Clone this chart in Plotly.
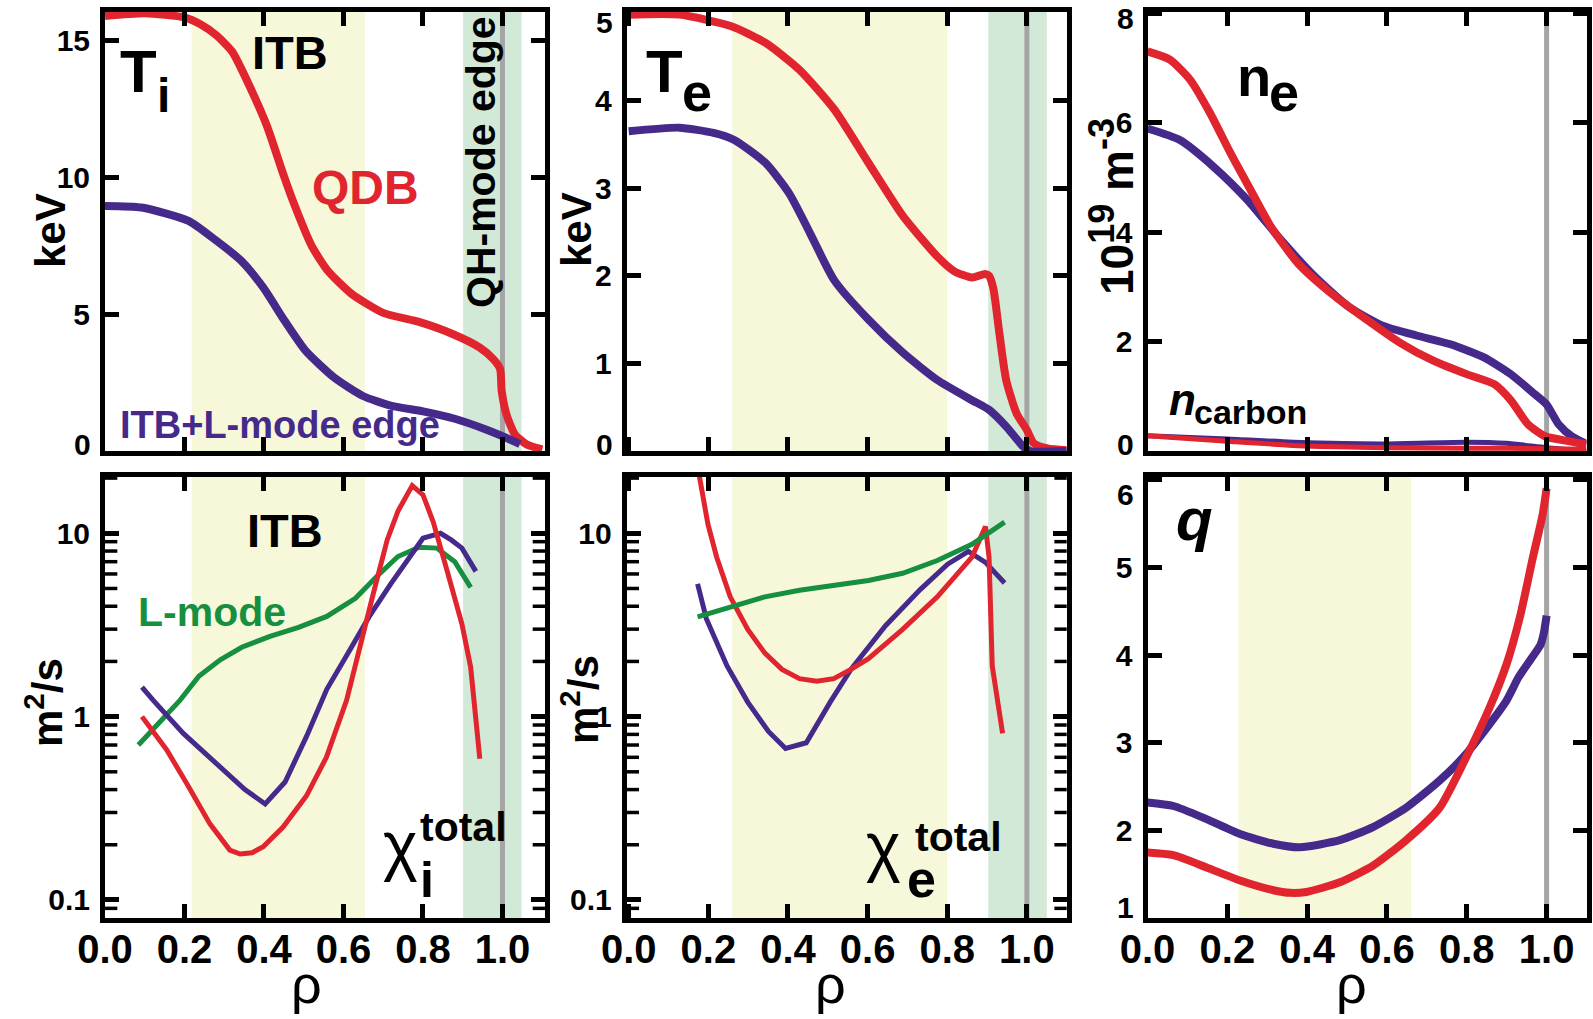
import math
import plotly.graph_objects as go

W, H = 1593, 1019
FONT = "Liberation Sans, Arial, sans-serif"
SANS = "Liberation Sans, Arial, sans-serif"

RED = "#E1252E"
BLUE = "#452A8C"
GREEN = "#168F3E"
YELLOW = "#F7F7DA"
MINT = "#D3E9D7"
GREY = "#A5A5A5"

# ---------------- profile data (rho = normalised radius) ----------------
# Ion temperature, keV
TI_RHO_QDB = [0, 0.1, 0.2, 0.24, 0.28, 0.32, 0.365, 0.407, 0.449, 0.474, 0.52, 0.56, 0.62,
              0.7, 0.79, 0.876, 0.943, 0.977, 0.994, 0.998, 1.01, 1.031, 1.06, 1.10]
TI_QDB = [15.9, 16.0, 15.85, 15.6, 15.2, 14.6, 13.3, 11.9, 10.1, 9.1, 7.5, 6.6, 5.75,
          5.05, 4.72, 4.27, 3.78, 3.36, 3.0, 2.2, 1.34, 0.61, 0.25, 0.06]
TI_RHO_L = [0, 0.092, 0.21, 0.27, 0.343, 0.398, 0.452, 0.505, 0.577, 0.649, 0.721,
            0.8, 0.88, 0.96, 1.01, 1.044]
TI_L = [8.96, 8.9, 8.41, 7.8, 6.95, 5.98, 4.76, 3.66, 2.68, 2.01, 1.65,
        1.45, 1.18, 0.78, 0.48, 0.25]

# Electron temperature, keV
TE_RHO_QDB = [0, 0.127, 0.256, 0.343, 0.429, 0.516, 0.602, 0.689, 0.775, 0.818, 0.862,
              0.895, 0.905, 0.916, 0.931, 0.948, 0.974, 1.0, 1.017, 1.052, 1.1]
TE_QDB = [4.98, 4.98, 4.85, 4.66, 4.35, 3.9, 3.29, 2.68, 2.22, 2.05, 1.98,
          2.02, 2.0, 1.85, 1.34, 0.81, 0.43, 0.24, 0.09, 0.03, 0.01]
TE_RHO_L = [0, 0.127, 0.213, 0.265, 0.343, 0.403, 0.455, 0.516, 0.602, 0.689, 0.775,
            0.862, 0.905, 0.948, 0.991, 1.009, 1.1]
TE_L = [3.65, 3.69, 3.63, 3.55, 3.29, 2.94, 2.49, 1.95, 1.5, 1.12, 0.81,
        0.58, 0.47, 0.28, 0.05, 0.0, 0.0]

# Electron and carbon density, 10^19 m^-3
NE_RHO_QDB = [0, 0.056, 0.107, 0.157, 0.208, 0.259, 0.31, 0.378, 0.462, 0.547, 0.632,
              0.716, 0.801, 0.869, 0.911, 0.953, 0.996, 1.055, 1.1]
NE_QDB = [7.30, 7.15, 6.78, 6.17, 5.44, 4.76, 4.09, 3.42, 2.87, 2.41, 1.98,
          1.65, 1.40, 1.22, 0.92, 0.49, 0.27, 0.18, 0.12]
NE_RHO_L = [0, 0.081, 0.166, 0.251, 0.335, 0.42, 0.505, 0.589, 0.674, 0.759, 0.843,
            0.911, 0.97, 1.0, 1.03, 1.063, 1.1]
NE_L = [5.89, 5.68, 5.19, 4.58, 3.85, 3.18, 2.63, 2.29, 2.11, 1.95, 1.71,
        1.40, 1.04, 0.85, 0.49, 0.27, 0.13]
NC_RHO = [0, 0.2, 0.4, 0.6, 0.8, 0.9, 1.0, 1.1]
NC_QDB = [0.28, 0.18, 0.09, 0.06, 0.05, 0.05, 0.04, 0.03]
NC_L = [0.28, 0.22, 0.15, 0.13, 0.16, 0.14, 0.06, 0.0]

# Ion thermal diffusivity, m^2/s
CHII_RHO_QDB = [0.093, 0.155, 0.206, 0.264, 0.314, 0.34, 0.37, 0.398, 0.448, 0.507, 0.557,
                0.608, 0.674, 0.71, 0.737, 0.773, 0.8, 0.826, 0.862, 0.898, 0.92, 0.943]
CHII_QDB = [1.0, 0.66, 0.43, 0.26, 0.187, 0.178, 0.181, 0.195, 0.25, 0.37, 0.6,
            1.23, 4.6, 9.2, 13.2, 18.2, 16.2, 11.5, 6.1, 3.2, 1.86, 0.59]
CHII_RHO_ITB = [0.093, 0.121, 0.197, 0.256, 0.298, 0.352, 0.403, 0.453, 0.507, 0.558,
                0.612, 0.665, 0.719, 0.764, 0.8, 0.844, 0.871, 0.898, 0.933]
CHII_ITB = [1.45, 1.23, 0.81, 0.62, 0.51, 0.40, 0.334, 0.44, 0.78, 1.41,
            2.23, 3.52, 5.3, 7.3, 9.4, 10.0, 9.2, 8.3, 6.2]
CHII_RHO_LM = [0.084, 0.155, 0.189, 0.236, 0.29, 0.344, 0.415, 0.487, 0.558, 0.63,
               0.683, 0.737, 0.79, 0.835, 0.88, 0.92]
CHII_LM = [0.70, 1.04, 1.23, 1.66, 2.04, 2.39, 2.74, 3.07, 3.52, 4.42,
           5.8, 7.47, 8.4, 8.3, 7.0, 5.07]

# Electron thermal diffusivity, m^2/s
CHIE_RHO_QDB = [0.175, 0.199, 0.221, 0.255, 0.299, 0.342, 0.385, 0.429, 0.472, 0.515,
                0.558, 0.602, 0.688, 0.775, 0.862, 0.896, 0.905, 0.913, 0.939]
CHIE_QDB = [22, 11.2, 7.4, 4.5, 2.99, 2.22, 1.81, 1.61, 1.56, 1.61,
            1.81, 2.07, 2.99, 4.5, 7.4, 10.9, 7.4, 1.89, 0.81]
CHIE_RHO_ITB = [0.173, 0.195, 0.247, 0.299, 0.351, 0.394, 0.446, 0.506, 0.558, 0.645,
                0.732, 0.801, 0.853, 0.896, 0.944]
CHIE_ITB = [5.3, 3.42, 1.89, 1.2, 0.83, 0.67, 0.72, 1.2, 1.81, 3.13,
            4.93, 6.78, 7.96, 6.94, 5.36]
CHIE_RHO_LM = [0.173, 0.255, 0.342, 0.429, 0.515, 0.602, 0.688, 0.775, 0.862, 0.944]
CHIE_LM = [3.5, 3.93, 4.5, 4.89, 5.17, 5.53, 6.05, 7.1, 8.7, 11.5]

# Safety factor
Q_RHO_QDB = [0, 0.065, 0.148, 0.232, 0.315, 0.357, 0.398, 0.482, 0.565, 0.648, 0.732,
             0.798, 0.857, 0.9, 0.934, 0.965, 0.99, 1.0]
Q_QDB = [1.75, 1.72, 1.58, 1.43, 1.32, 1.29, 1.30, 1.41, 1.60, 1.89, 2.26,
         2.83, 3.4, 3.9, 4.45, 5.1, 5.6, 5.9]
Q_RHO_ITB = [0, 0.065, 0.148, 0.232, 0.315, 0.382, 0.482, 0.565, 0.648, 0.732, 0.798,
             0.898, 0.93, 0.96, 0.985, 0.993, 1.0]
Q_ITB = [2.32, 2.28, 2.13, 1.96, 1.85, 1.81, 1.89, 2.04, 2.26, 2.57, 2.87,
         3.47, 3.75, 3.95, 4.12, 4.25, 4.45]

# Shaded radial regions (barrier and edge zones) per column
ITB_ZONE = {1: (0.218, 0.654), 2: (0.26, 0.80), 3: (0.228, 0.661)}
EDGE_ZONE = {1: (0.901, 1.048), 2: (0.903, 1.05)}
SEPARATRIX = 1.0

RHO_TICKS = [0, 0.2, 0.4, 0.6, 0.8, 1.0]
RHO_TICKTEXT = ["0.0", "0.2", "0.4", "0.6", "0.8", "1.0"]

# y tick values; the end labels are set in from the frame corners
TI_TICKS = [0, 5, 10, 15]
TE_TICKS = [0, 1, 2, 3, 4, 5]
NE_TICKS = [0, 2, 4, 6, 8]
Q_TICKS = [1, 2, 3, 4, 5, 6]
LOG_RANGE = [-1.1, 1.307]
LOG_MINOR = [0.09, 0.2, 0.3, 0.4, 0.5, 0.6, 0.7, 0.8, 0.9,
             2, 3, 4, 5, 6, 7, 8, 9, 20]

# ---------------- figure ----------------
fig = go.Figure()

COLS = [(105 / W, 545 / W), (626.7 / W, 1066.7 / W), (1147.5 / W, 1586.5 / W)]
ROWS = [(1 - 451 / H, 1 - 12 / H), (1 - 918.3 / H, 1 - 477 / H)]
XRANGES = [[0, 1.107], [-0.005, 1.1], [0, 1.1]]
FRAME_LEFT = [105, 626.7, 1147.5]


def ax(n):
    return "" if n == 1 else str(n)


def line(panel, xs, ys, color, width, shape="spline", smoothing=0.6):
    fig.add_trace(go.Scatter(
        x=xs, y=ys, mode="lines",
        line=dict(color=color, width=width, shape=shape,
                  smoothing=smoothing if shape == "spline" else None),
        xaxis="x" + ax(panel), yaxis="y" + ax(panel),
        showlegend=False, hoverinfo="skip"))


# temperature and density profiles
line(1, TI_RHO_QDB, TI_QDB, RED, 8)
line(1, TI_RHO_L, TI_L, BLUE, 8)
line(2, TE_RHO_QDB, TE_QDB, RED, 8)
line(2, TE_RHO_L, TE_L, BLUE, 8)
line(3, NC_RHO, NC_L, BLUE, 5)
line(3, NC_RHO, NC_QDB, RED, 5)
line(3, NE_RHO_L, NE_L, BLUE, 8)
line(3, NE_RHO_QDB, NE_QDB, RED, 8)
# diffusivities
line(4, CHII_RHO_LM, CHII_LM, GREEN, 5, shape="linear")
line(4, CHII_RHO_ITB, CHII_ITB, BLUE, 5, shape="linear")
line(4, CHII_RHO_QDB, CHII_QDB, RED, 5, shape="linear")
line(5, CHIE_RHO_ITB, CHIE_ITB, BLUE, 5, shape="linear")
line(5, CHIE_RHO_QDB, CHIE_QDB, RED, 5, shape="linear")
line(5, CHIE_RHO_LM, CHIE_LM, GREEN, 5, shape="linear")
# safety factor
line(6, Q_RHO_ITB, Q_ITB, BLUE, 8)
line(6, Q_RHO_QDB, Q_QDB, RED, 8)

# shaded zones and separatrix marker
for panel in range(1, 7):
    col = (panel - 1) % 3 + 1
    xr = "x" + ax(panel)
    yr = "y" + ax(panel) + " domain"
    if col in ITB_ZONE and panel != 3:
        a, b = ITB_ZONE[col]
        fig.add_shape(type="rect", xref=xr, yref=yr, x0=a, x1=b, y0=0, y1=1,
                      fillcolor=YELLOW, line_width=0, layer="below")
    if col in EDGE_ZONE:
        a, b = EDGE_ZONE[col]
        fig.add_shape(type="rect", xref=xr, yref=yr, x0=a, x1=b, y0=0, y1=1,
                      fillcolor=MINT, line_width=0, layer="below")
    fig.add_shape(type="line", xref=xr, yref=yr, x0=SEPARATRIX, x1=SEPARATRIX, y0=0, y1=1,
                  line=dict(color=GREY, width=5), layer="below")

# minor ticks along both sides of the logarithmic diffusivity axes,
# placed at each value's fractional position within the log range
for panel in (4, 5):
    for v in LOG_MINOR:
        f = (math.log10(v) - LOG_RANGE[0]) / (LOG_RANGE[1] - LOG_RANGE[0])
        for a, b in ((0, 0.028), (0.972, 1)):
            fig.add_shape(type="line", xref="x" + ax(panel) + " domain",
                          yref="y" + ax(panel) + " domain",
                          x0=a, x1=b, y0=f, y1=f, line=dict(color="black", width=3.5),
                          layer="above")

axis_common = dict(showline=True, linewidth=5, linecolor="black", mirror="ticks",
                   ticks="inside", ticklen=14, tickwidth=4.5, tickcolor="black",
                   showgrid=False, zeroline=False, fixedrange=True, automargin=False)

# decades on the diffusivity axes
LOG_AXIS = dict(type="log", range=LOG_RANGE, tickmode="linear", tick0=0, dtick=1,
                exponentformat="none")


def inner_labels(vals):
    # blank the two end labels; they are drawn separately, nudged inside
    return [""] + [f"{v:g}" for v in vals[1:-1]] + [""]


YSPEC = {
    1: dict(range=[0, 16.05], tickvals=TI_TICKS, ticktext=[""] + [f"{v:g}" for v in TI_TICKS[1:]]),
    2: dict(range=[0, 5.01], tickvals=TE_TICKS, ticktext=inner_labels(TE_TICKS)),
    3: dict(range=[0, 8.02], tickvals=NE_TICKS, ticktext=inner_labels(NE_TICKS)),
    4: LOG_AXIS,
    5: LOG_AXIS,
    6: dict(range=[1, 6.03], tickvals=Q_TICKS, ticktext=inner_labels(Q_TICKS)),
}

layout_axes = {}
for panel in range(1, 7):
    col = (panel - 1) % 3
    row = 0 if panel <= 3 else 1
    bottom = row == 1
    layout_axes["xaxis" + ax(panel)] = dict(
        axis_common, domain=COLS[col], range=XRANGES[col], anchor="y" + ax(panel),
        tickvals=RHO_TICKS, ticktext=RHO_TICKTEXT, showticklabels=bottom,
        tickfont=dict(family=FONT, size=40, color="black", weight="bold"),
        ticklabelstandoff=-8)
    layout_axes["yaxis" + ax(panel)] = dict(
        axis_common, domain=ROWS[row], anchor="x" + ax(panel),
        tickfont=dict(family=FONT, size=30, color="black", weight="bold"),
        ticklabelstandoff=4, **YSPEC[panel])

fig.update_layout(width=W, height=H, margin=dict(l=0, r=0, t=0, b=0, autoexpand=False),
                  paper_bgcolor="white", plot_bgcolor="white", showlegend=False,
                  **layout_axes)


def txt(px, py, s, size, color="black", weight="bold", style="normal", angle=0,
        xanchor="center", family=FONT):
    fig.add_annotation(x=px / W, y=1 - py / H, xref="paper", yref="paper", text=s,
                       showarrow=False, textangle=angle, xanchor=xanchor, yanchor="middle",
                       font=dict(family=family, size=size, color=color, weight=weight, style=style))


# end tick labels, set slightly inside the frame corners
for col, py, val in [(0, 444, TI_TICKS[0]),
                     (1, 444, TE_TICKS[0]), (1, 23, TE_TICKS[-1]),
                     (2, 444, NE_TICKS[0]), (2, 19, NE_TICKS[-1]),
                     (2, 907, Q_TICKS[0]), (2, 494, Q_TICKS[-1])]:
    txt(FRAME_LEFT[col] - 12, py, f"{val:g}", 30, xanchor="right")

# panel labels
txt(118, 72, "T", 60, xanchor="left")
txt(155, 95, "i", 48, xanchor="left")
txt(644, 72, "T", 60, xanchor="left")
txt(680, 92, "e", 54, xanchor="left")
txt(1235, 76, "n", 56, xanchor="left")
txt(1267, 92, "e", 54, xanchor="left")
txt(1174, 519, "q", 60, style="italic", xanchor="left")

# Ti annotations
txt(290, 52, "ITB", 47)
txt(365, 187, "QDB", 48, color=RED)
txt(481, 162, "QH-mode edge", 41, angle=-90)
txt(280, 425, "ITB+L-mode edge", 38, color=BLUE)

# carbon density label
txt(1167, 399, "n", 44, style="italic", xanchor="left")
txt(1192, 412, "carbon", 34, xanchor="left")

# diffusivity annotations
txt(285, 530, "ITB", 47)
txt(212, 612, "L-mode", 41, color=GREEN)
txt(381, 845, "χ", 66, weight="normal", xanchor="left", family=SANS)
txt(418, 827, "total", 41, xanchor="left")
txt(418, 880, "i", 50, xanchor="left")
txt(864, 846, "χ", 66, weight="normal", xanchor="left", family=SANS)
txt(913, 837, "total", 41, xanchor="left")
txt(905, 879, "e", 52, xanchor="left")

# axis titles
txt(51, 231, "keV", 42, angle=-90)
txt(576, 230, "keV", 42, angle=-90)
txt(1112, 207, "10<sup><span style='font-size:36px'>19</span></sup> "
               "m<sup><span style='font-size:36px'>-3</span></sup>", 46, angle=-90)
txt(44, 703, "m<sup>2</sup>/s", 42, angle=-90)
txt(580, 700, "m<sup>2</sup>/s", 42, angle=-90)
for cx in (306, 830, 1351):
    txt(cx, 984, "ρ", 54, weight="normal", family=SANS)

fig.write_html("out.html")
